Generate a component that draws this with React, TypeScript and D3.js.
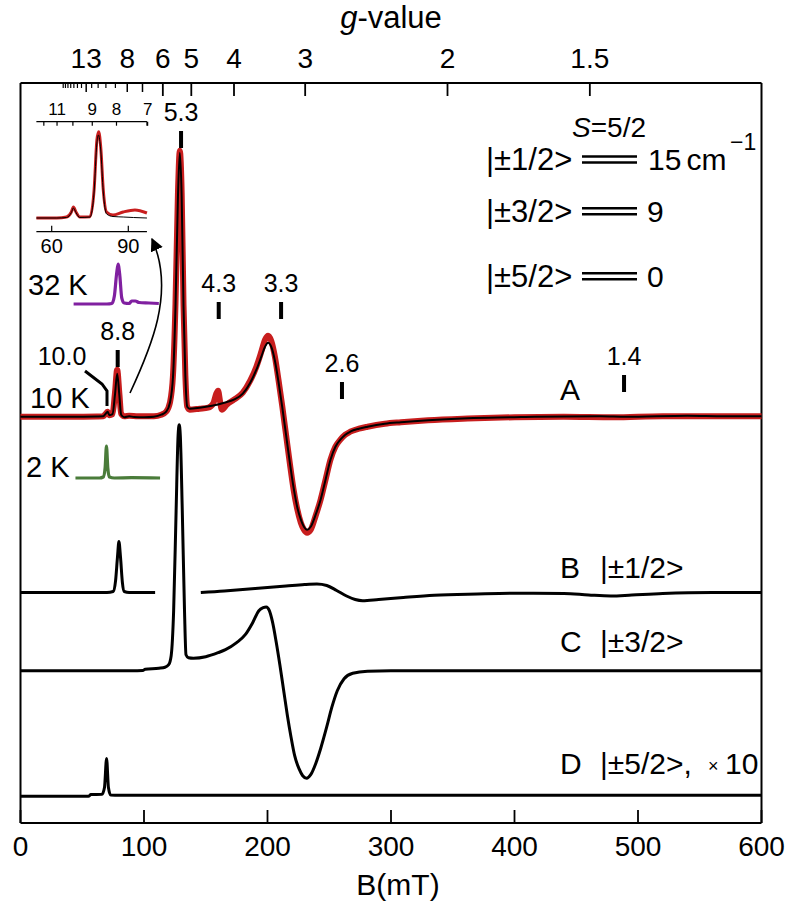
import React from 'react';
import * as d3 from 'd3';

// ---------- axis data ----------
const bTicks = [0, 100, 200, 300, 400, 500, 600];
const gMajor = [6, 5, 4, 3, 2, 1.5];
const gMedium = [13, 8, 7];
const gMinor = [20, 19, 18, 17, 16, 15, 14, 12, 11, 10, 9];
const gLabels = ['13', '8', '6', '5', '4', '3', '2', '1.5'];
const gLabelValues = [13, 8, 6, 5, 4, 3, 2, 1.5];
const G_FIELD = 691.5; // B(mT)*g for the main spectra

const insetGTicks = [12, 11, 10, 9, 8, 7];
const insetGLabelValues = [11, 9, 8, 7];
const insetBTicks = [60, 90];
const INSET_G_FIELD = 683;
const insetBRange = [54, 97.3];

// ---------- spectra (B in mT, intensity in arb. units) ----------
const traceA_sim: [number, number][] = [[0,0],[40,0],[62,0.03],[67,0.05],[69,0.3],[70.5,0.5],[72,0.15],[74.5,0.25],[76.5,2.2],[78.3,4.3],[80,2.2],[81.5,0.2],[84,-0.05],[88,0.05],[92,-0.03],[100,-0.05],[108,0],[114,0.2],[118,0.5],[121,1.4],[123.5,4.0],[125.5,11.0],[127.5,22.0],[129,26.4],[130.5,22.0],[132,11.0],[133.5,4.0],[135,1.0],[137,0.8],[145,0.9],[155,1.1],[165,1.4],[172.8,1.7],[180,2.3],[186,3.4],[191,4.7],[195,6.0],[198,7.0],[200.5,7.4],[203,7.0],[206,5.6],[209,3.4],[212,0.9],[215,-1.8],[218,-4.5],[221,-7.0],[224,-9.0],[227,-10.3],[229.5,-11.0],[232,-11.3],[235,-11.0],[239,-9.8],[243,-8.3],[247,-6.3],[251,-4.3],[255,-3.0],[259,-2.3],[263,-1.8],[267,-1.5],[274,-1.2],[281,-1.0],[295,-0.7],[308,-0.55],[330,-0.35],[362,-0.16],[400,-0.05],[416,0],[470,0.05],[490,0],[540,0.1],[570,0.05],[600,0.05]];

const traceA_exp: [number, number][] = [[0,0],[40,0],[62,0.03],[67,0.05],[69,0.3],[70.5,0.5],[72,0.15],[74.5,0.25],[76.5,2.4],[78.3,4.7],[80,2.4],[81.5,0.3],[84,0.05],[88,0.1],[95,0.05],[108,0.05],[114,0.2],[118,0.5],[121,1.4],[123.5,4.2],[125.5,11.3],[127.5,22.4],[129,26.6],[130.5,22.4],[132,11.2],[133.5,4.1],[135,1.0],[137,0.7],[145,0.8],[152,0.9],[156,1.3],[158.5,2.3],[160,2.6],[161.5,1.6],[163,0.7],[167,1.2],[172.8,1.7],[180,2.4],[186,3.6],[191,5.0],[195,6.5],[198,7.7],[200.5,8.1],[203,7.6],[206,6.0],[209,3.6],[212,1.0],[215,-1.8],[218,-4.6],[221,-7.2],[224,-9.2],[227,-10.6],[229.5,-11.3],[232,-11.6],[235,-11.3],[239,-9.9],[243,-8.3],[247,-6.3],[251,-4.3],[255,-3.0],[259,-2.3],[263,-1.8],[267,-1.5],[274,-1.2],[281,-1.0],[295,-0.7],[308,-0.55],[330,-0.35],[362,-0.18],[400,-0.05],[440,0],[480,-0.05],[520,0.05],[560,0.05],[600,0.05]];

const trace32K: [number, number][] = [[43,0],[70,0],[74,0.05],[76,0.8],[77.8,3.0],[79,4.0],[80.3,3.0],[82,0.6],[84,0.1],[88,0.05],[90,0.3],[93,0.3],[96,0.15],[104,0.1],[112,0.05]];
const trace2K: [number, number][] = [[44.5,0],[64,0],[67,0.1],[68.5,1.0],[69.6,3.2],[70.7,1.0],[72,0.1],[76,0],[90,0.03],[113,0]];

const traceB1: [number, number][] = [[0,0],[70,0],[75,0.1],[77,1.2],[78.5,3.5],[79.7,5.1],[81,3.5],[82.5,1.0],[84,0.1],[88,0],[109,0]];
const traceB2: [number, number][] = [[146,0],[165,0.15],[180,0.3],[200,0.5],[215,0.65],[230,0.8],[240,0.85],[248,0.7],[256,0.2],[264,-0.35],[271,-0.7],[277,-0.82],[290,-0.7],[310,-0.5],[335,-0.28],[370,-0.15],[400,-0.08],[440,-0.1],[460,-0.25],[478,-0.35],[495,-0.25],[520,-0.1],[560,0],[600,0]];

const traceC: [number, number][] = [[0,0],[90,0],[99,0.02],[101,0.15],[112,0.25],[117,0.35],[120,0.6],[122,1.5],[124,6.0],[126,16.0],[127.6,23.5],[128.5,24.6],[129.4,23.5],[131,16.0],[132.8,6.0],[134,1.6],[136,1.3],[140,1.25],[150,1.4],[160,1.8],[166,2.1],[175,2.8],[182,3.6],[188,4.8],[193,6.0],[196.5,6.3],[199,6.37],[201.5,6.0],[204,4.9],[207,2.9],[210,0.6],[213,-1.9],[216,-4.4],[219,-6.6],[222,-8.5],[225.5,-9.8],[228.5,-10.5],[231.7,-10.75],[235,-10.4],[239,-9.3],[243,-7.8],[248,-5.6],[252,-3.7],[256.5,-2.0],[262,-0.8],[269,-0.26],[281,-0.05],[300,0],[600,0]];

const traceD: [number, number][] = [[0,-0.08],[55,-0.08],[57,0.1],[66,0.12],[68,0.8],[69.7,3.7],[71.2,0.8],[73,0.05],[80,0.03],[600,0.03]];

const insetExp: [number, number][] = [[54,0],[62,0],[65.8,0.1],[67.7,0.6],[68.5,1.1],[69.5,0.6],[71,0.1],[75,0.13],[76.6,2.8],[77.7,7.8],[78.4,8.63],[79.2,7.1],[80.2,2.8],[81.5,0.6],[84,0.3],[88,0.6],[92.6,0.8],[97.3,0.5]];
const insetSim: [number, number][] = [[54,0],[62,0],[65.8,0.05],[67.7,0.55],[68.5,1.0],[69.5,0.55],[71,0.05],[75,0.1],[76.6,2.6],[77.7,7.5],[78.3,8.3],[79.2,6.8],[80.2,2.6],[81.5,0.4],[84,0.15],[88,0.1],[92,0.05],[97.3,0]];

// offsets of the stacked traces
const offA = 40.63, offB = 23.05, offC = 15.23, offD = 2.75, off32K = 51.9, off2K = 34.5;

// marked g-values
const markLabels = ['8.8', '5.3', '4.3', '3.3', '2.6', '1.4'];
const markB = [78.7, 130, 160.5, 211, 260.3, 488.7];
const markTop = [350, 131, 302, 302, 382, 375];

// energy levels
const levelNames = ['|±1/2>', '|±3/2>', '|±5/2>'];

const FONT = 'Liberation Sans, Arial, Helvetica, sans-serif';
const RED = '#c81e1e';
const PURPLE = '#8020a0';
const GREEN = '#4a7c3a';

export default function App() {
  const x = d3.scaleLinear().domain([0, 600]).range([20.5, 761.5]);
  const y = d3.scaleLinear().domain([0, 74]).range([823, 83]);
  const mk = (off: number) =>
    d3.line<[number, number]>().x(d => x(d[0])).y(d => y(off + d[1])).curve(d3.curveMonotoneX);

  const ix = d3.scaleLinear().domain([60, 90]).range([51.7, 128.3]);
  const iy = d3.scaleLinear().domain([0, 9]).range([218, 128]);
  const iline = d3.line<[number, number]>().x(d => ix(d[0])).y(d => iy(d[1])).curve(d3.curveMonotoneX);

  const top = 83, bottom = 823, left = x(0), right = x(600);
  const gx = (g: number) => x(G_FIELD / g);
  const igx = (g: number) => ix(INSET_G_FIELD / g);
  const iTop = 121.7, iBot = 231.7;
  const levelY = [170, 221.7, 286.7];

  return (
    <div style={{ position: 'absolute', left: 0, top: 0 }}>
      <svg width={800} height={908} style={{ display: 'block', background: '#fff' }} fontFamily={FONT}>
        <defs>
          <marker id="ah" viewBox="0 0 10 10" refX="9" refY="5" markerUnits="userSpaceOnUse" markerWidth="13" markerHeight="13" orient="auto">
            <path d="M0,0 L10,5 L0,10 z" fill="#000" />
          </marker>
        </defs>

        {/* frame */}
        <line x1={left} x2={right} y1={top} y2={top} stroke="#000" strokeWidth={2} />
        <line x1={left} x2={right} y1={bottom} y2={bottom} stroke="#000" strokeWidth={2} />
        <line x1={left} x2={left} y1={top} y2={bottom} stroke="#000" strokeWidth={2} />
        <line x1={right} x2={right} y1={top} y2={bottom} stroke="#000" strokeWidth={2} />

        {/* bottom axis */}
        {bTicks.map(t => (
          <g key={'b' + t}>
            <line x1={x(t)} x2={x(t)} y1={bottom} y2={bottom - 13} stroke="#000" strokeWidth={1.8} />
            <text x={x(t)} y={856} textAnchor="middle" fontSize={28}>{t}</text>
          </g>
        ))}
        <text x={398} y={895} textAnchor="middle" fontSize={30}>B(mT)</text>

        {/* top g-value axis */}
        {gMajor.map(g => <line key={'gM' + g} x1={gx(g)} x2={gx(g)} y1={top} y2={top + 13} stroke="#000" strokeWidth={1.8} />)}
        {gMedium.map(g => <line key={'gm' + g} x1={gx(g)} x2={gx(g)} y1={top} y2={top + 9} stroke="#000" strokeWidth={1.5} />)}
        {gMinor.map(g => <line key={'gn' + g} x1={gx(g)} x2={gx(g)} y1={top} y2={top + 5} stroke="#000" strokeWidth={1.2} />)}
        {gLabels.map((l, i) => (
          <text key={'gl' + l} x={gx(gLabelValues[i])} y={68} textAnchor="middle" fontSize={28}>{l}</text>
        ))}
        <text x={391} y={28} textAnchor="middle" fontSize={31}>
          <tspan fontStyle="italic">g</tspan>-value
        </text>

        {/* inset */}
        <line x1={ix(insetBRange[0])} x2={ix(insetBRange[1])} y1={iTop} y2={iTop} stroke="#000" strokeWidth={1.3} />
        <line x1={ix(insetBRange[0])} x2={ix(insetBRange[1])} y1={iBot} y2={iBot} stroke="#000" strokeWidth={1.3} />
        {insetGTicks.map(g => <line key={'ig' + g} x1={igx(g)} x2={igx(g)} y1={iTop} y2={iTop + 4} stroke="#000" strokeWidth={1.2} />)}
        <line x1={ix(insetBRange[1])} x2={ix(insetBRange[1])} y1={iTop} y2={iTop + 4} stroke="#000" strokeWidth={1.2} />
        {insetGLabelValues.map(g => (
          <text key={'igl' + g} x={igx(g)} y={115} textAnchor="middle" fontSize={17}>{g}</text>
        ))}
        {insetBTicks.map(t => (
          <g key={'ib' + t}>
            <line x1={ix(t)} x2={ix(t)} y1={iBot} y2={iBot - 6} stroke="#000" strokeWidth={1.2} />
            <text x={ix(t)} y={253} textAnchor="middle" fontSize={20}>{t}</text>
          </g>
        ))}
        <path d={iline(insetExp) || ''} fill="none" stroke={RED} strokeWidth={3} strokeLinejoin="round" />
        <path d={iline(insetSim) || ''} fill="none" stroke="#000" strokeWidth={1} strokeLinejoin="round" />

        {/* arrow */}
        <path d="M130,393 C150,350 176,292 152,239" fill="none" stroke="#000" strokeWidth={1.6} markerEnd="url(#ah)" />

        {/* 32 K and 2 K traces */}
        <path d={mk(off32K)(trace32K) || ''} fill="none" stroke={PURPLE} strokeWidth={3.2} strokeLinejoin="round" />
        <text x={28} y={295} fontSize={29}>32 K</text>
        <path d={mk(off2K)(trace2K) || ''} fill="none" stroke={GREEN} strokeWidth={3.2} strokeLinejoin="round" />
        <text x={26} y={477} fontSize={29}>2 K</text>

        {/* trace A */}
        <path d={mk(offA)(traceA_exp) || ''} fill="none" stroke={RED} strokeWidth={6} strokeLinejoin="round" />
        <path d={mk(offA)(traceA_sim) || ''} fill="none" stroke="#000" strokeWidth={2} strokeLinejoin="round" />
        <text x={30} y={408} fontSize={29}>10 K</text>
        <text x={560} y={400} fontSize={30}>A</text>

        {/* 10.0 leader */}
        <text x={62} y={365} textAnchor="middle" fontSize={25}>10.0</text>
        <polyline points="85,371 102,384 107,391 107,406" fill="none" stroke="#000" strokeWidth={3} />

        {/* markers */}
        {markLabels.map((l, i) => (
          <g key={'mk' + l}>
            <rect x={x(markB[i]) - 2} y={markTop[i]} width={4} height={17} fill="#000" />
            <text x={x(markB[i])} y={markTop[i] - 10} textAnchor="middle" fontSize={25}>{l}</text>
          </g>
        ))}

        {/* B, C, D traces */}
        <path d={mk(offB)(traceB1) || ''} fill="none" stroke="#000" strokeWidth={3} strokeLinejoin="round" />
        <path d={mk(offB)(traceB2) || ''} fill="none" stroke="#000" strokeWidth={3} strokeLinejoin="round" />
        <path d={mk(offC)(traceC) || ''} fill="none" stroke="#000" strokeWidth={3} strokeLinejoin="round" />
        <path d={mk(offD)(traceD) || ''} fill="none" stroke="#000" strokeWidth={3} strokeLinejoin="round" />

        <text x={560} y={578} fontSize={30}>B</text>
        <text x={600} y={578} fontSize={30}>|±1/2&gt;</text>
        <text x={560} y={652} fontSize={30}>C</text>
        <text x={600} y={652} fontSize={30}>|±3/2&gt;</text>
        <text x={560} y={774} fontSize={30}>D</text>
        <text x={600} y={774} fontSize={30}>|±5/2&gt;,</text>
        <text x={708} y={772} fontSize={18}>×</text>
        <text x={725} y={774} fontSize={30}>10</text>

        {/* energy level diagram */}
        <text x={609} y={137} textAnchor="middle" fontSize={28}>
          <tspan fontStyle="italic">S</tspan>=5/2
        </text>
        {levelY.map((by, i) => (
          <g key={'lev' + i}>
            <text x={486} y={by} fontSize={31}>{levelNames[i]}</text>
            <line x1={582} x2={637} y1={by - 13.5} y2={by - 13.5} stroke="#000" strokeWidth={2.4} />
            <line x1={582} x2={637} y1={by - 7.5} y2={by - 7.5} stroke="#000" strokeWidth={2.4} />
          </g>
        ))}
        <text x={648} y={170} fontSize={30}>15<tspan dx={5}>cm</tspan></text>
        <text x={730} y={150} fontSize={23}>−1</text>
        <text x={647} y={221.7} fontSize={30}>9</text>
        <text x={647} y={286.7} fontSize={30}>0</text>
      </svg>
    </div>
  );
}
